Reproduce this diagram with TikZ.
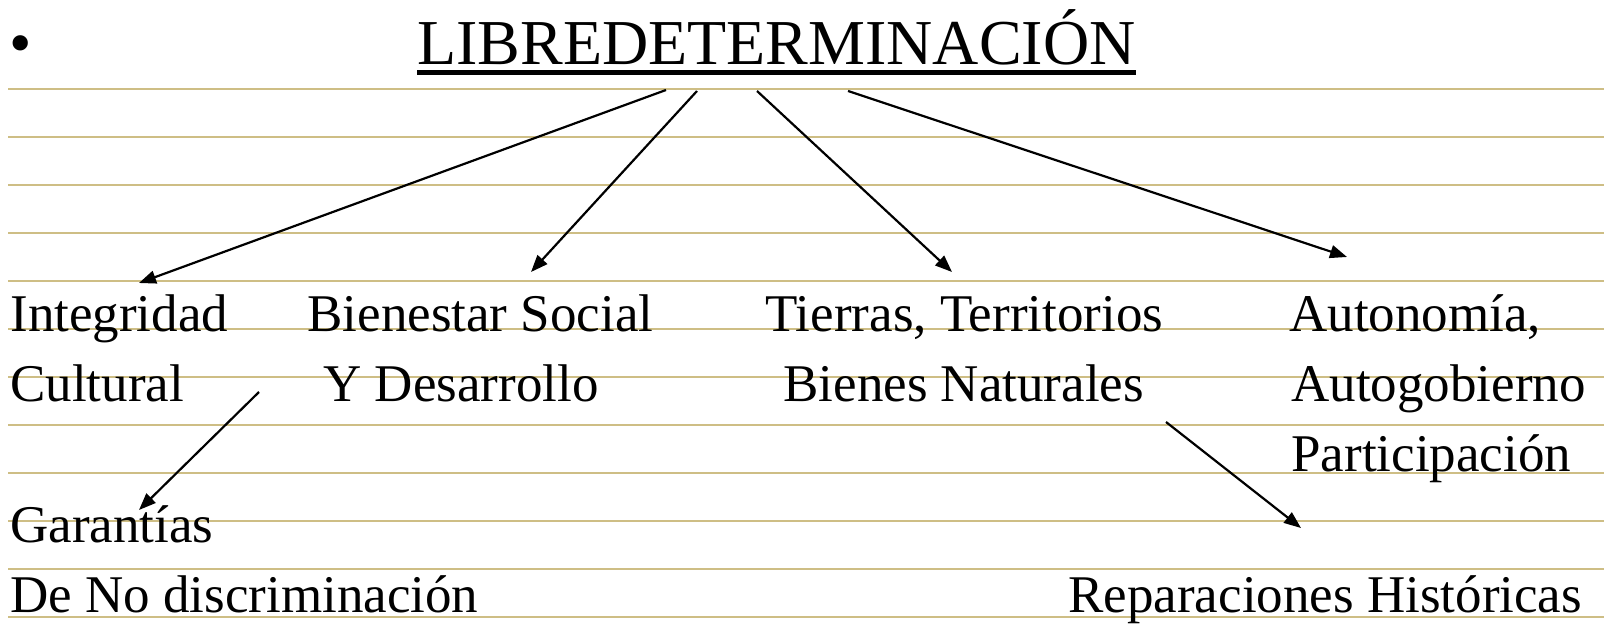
\documentclass[tikz,border=0pt]{standalone}
\usepackage{fontspec}
\setmainfont{Liberation Serif}
\usetikzlibrary{arrows.meta}
\definecolor{rulecol}{RGB}{206,190,133}
\begin{document}
\begin{tikzpicture}[x=0.5pt,y=-0.5pt,
  txt/.style={anchor=base west,inner sep=0pt,font=\fontsize{26.5}{30}\selectfont},
  ttl/.style={anchor=base west,inner sep=0pt,font=\fontsize{32}{36}\selectfont},
  arr/.style={-{Triangle[length=8.5pt,width=6.5pt]},line width=1.1pt},
  ruled/.style={rulecol,line width=1.4pt}]
\useasboundingbox (0,0) rectangle (1604,625);
\foreach \k in {0,...,11} \draw[ruled] (8,89+48*\k) -- (1604,89+48*\k);
% title
\node[ttl,anchor=base] (bullet) at (21,65) {\textbullet};
\node[ttl] (title) at (417,65) {LIBREDETERMINACIÓN};
\draw[line width=2.4pt] ([yshift=-3.6pt]title.base west) -- ([yshift=-3.6pt]title.base east);
% texts
\node[txt] (int1) at (10,331) {Integridad};
\node[txt] (int2) at (10,401) {Cultural};
\node[txt] (bie1) at (307,331) {Bienestar Social};
\node[txt] (bie2) at (323,401) {Y Desarrollo};
\node[txt] (tie1) at (765,331) {Tierras, Territorios};
\node[txt] (tie2) at (783,401) {Bienes Naturales};
\node[txt] (aut1) at (1289,331) {Autonomía,};
\node[txt] (aut2) at (1291,401) {Autogobierno};
\node[txt] (aut3) at (1291,471) {Participación};
\node[txt] (gar1) at (10,542) {Garantías};
\node[txt] (gar2) at (10,612) {De No discriminación};
\node[txt] (rep) at (1068,612) {Reparaciones Históricas};
% arrow end points
\coordinate (s1) at (666,90);
\coordinate (s2) at (697,91);
\coordinate (s3) at (757,91);
\coordinate (s4) at (848,91);
\coordinate (e1) at (139,283);
\coordinate (e2) at (531,272);
\coordinate (e3) at (952,272);
\coordinate (e4) at (1347,257);
\coordinate (s5) at (259,392);
\coordinate (e5) at (139,510);
\coordinate (s6) at (1166,422);
\coordinate (e6) at (1301,528);
\draw[arr] (s1) -- (e1);
\draw[arr] (s2) -- (e2);
\draw[arr] (s3) -- (e3);
\draw[arr] (s4) -- (e4);
\draw[arr] (s5) -- (e5);
\draw[arr] (s6) -- (e6);
\end{tikzpicture}
\end{document}
